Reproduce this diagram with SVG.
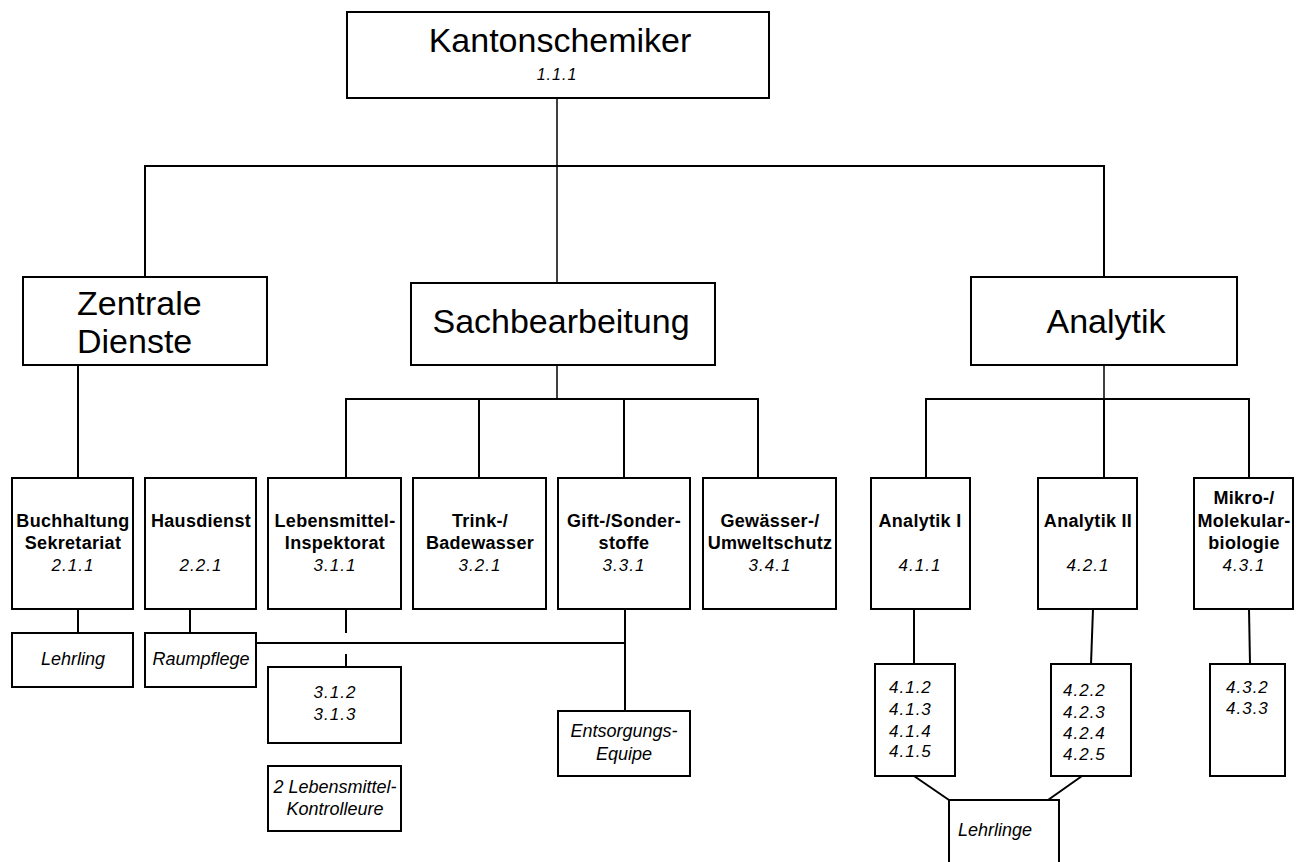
<svg xmlns="http://www.w3.org/2000/svg" width="1304" height="862" viewBox="0 0 1304 862">
<style>
rect{fill:#fff;stroke:#000;stroke-width:2}
.c line,.c polyline{stroke:#000;stroke-width:2;fill:none}
.c .thin{stroke-width:1.5}
text{font-family:"Liberation Sans",Arial,sans-serif;fill:#000}
.big{font-size:34px}
.b{font-size:18px;font-weight:bold;text-anchor:middle;letter-spacing:0.3px}
.i{font-size:18px;font-style:italic;text-anchor:middle}
.n{font-size:17px;font-style:italic;text-anchor:middle;letter-spacing:1px}
.nl{font-size:17px;font-style:italic;letter-spacing:1px}
.m{text-anchor:middle}
</style>
<rect x="0" y="0" width="1304" height="862" style="fill:#fff;stroke:none"/>
<g class="c">
<line class="thin" x1="557" y1="98" x2="557" y2="283"/>
<polyline points="145,277 145,166 1104,166 1104,277"/>
<line x1="78" y1="365" x2="78" y2="478"/>
<line class="thin" x1="557" y1="365" x2="557" y2="399"/>
<line x1="345" y1="399" x2="759" y2="399"/>
<line x1="346" y1="399" x2="346" y2="478"/>
<line x1="479" y1="399" x2="479" y2="478"/>
<line x1="624" y1="399" x2="624" y2="478"/>
<line x1="758" y1="399" x2="758" y2="478"/>
<line class="thin" x1="1104" y1="365" x2="1104" y2="399"/>
<line x1="925" y1="399" x2="1250" y2="399"/>
<line x1="926" y1="399" x2="926" y2="478"/>
<line x1="1104" y1="399" x2="1104" y2="478"/>
<line x1="1249" y1="399" x2="1249" y2="478"/>
<line x1="78" y1="609" x2="78" y2="633"/>
<line x1="190" y1="609" x2="190" y2="633"/>
<line x1="346" y1="609" x2="346" y2="633"/>
<line x1="346" y1="654" x2="346" y2="667"/>
<line x1="256" y1="643" x2="625" y2="643"/>
<line x1="625" y1="609" x2="625" y2="711"/>
<line x1="914" y1="609" x2="914" y2="664"/>
<line x1="1093" y1="609" x2="1091" y2="664"/>
<line x1="1249" y1="609" x2="1250" y2="664"/>
<line x1="914" y1="776" x2="949" y2="800"/>
<line x1="1082" y1="776" x2="1048" y2="800"/>
</g>
<g id="kantonschemiker"><rect x="347" y="12" width="422" height="86"/><text class="big m" x="560" y="52">Kantonschemiker</text><text class="n" x="557" y="80" style="font-size:16px">1.1.1</text></g>
<g id="zentrale"><rect x="23" y="277" width="244" height="88"/><text class="big" x="77" y="315">Zentrale</text><text class="big" x="77" y="353">Dienste</text></g>
<g id="sachbearbeitung"><rect x="411" y="283" width="304" height="82"/><text class="big m" x="561" y="333">Sachbearbeitung</text></g>
<g id="analytik"><rect x="971" y="277" width="266" height="88"/><text class="big m" x="1106" y="333">Analytik</text></g>
<g id="buchhaltung"><rect x="12" y="478" width="121" height="131"/><text class="b" x="73" y="527">Buchhaltung</text><text class="b" x="73" y="549">Sekretariat</text><text class="n" x="73" y="571">2.1.1</text></g>
<g id="hausdienst"><rect x="145" y="478" width="111" height="131"/><text class="b" x="201" y="527">Hausdienst</text><text class="n" x="201" y="571">2.2.1</text></g>
<g id="lebensmittel"><rect x="268" y="478" width="133" height="131"/><text class="b" x="335" y="527">Lebensmittel-</text><text class="b" x="335" y="549">Inspektorat</text><text class="n" x="335" y="571">3.1.1</text></g>
<g id="trink"><rect x="413" y="478" width="133" height="131"/><text class="b" x="480" y="527">Trink-/</text><text class="b" x="480" y="549">Badewasser</text><text class="n" x="480" y="571">3.2.1</text></g>
<g id="gift"><rect x="558" y="478" width="132" height="131"/><text class="b" x="624" y="527">Gift-/Sonder-</text><text class="b" x="624" y="549">stoffe</text><text class="n" x="624" y="571">3.3.1</text></g>
<g id="gewaesser"><rect x="703" y="478" width="133" height="131"/><text class="b" x="770" y="527">Gewässer-/</text><text class="b" x="770" y="549">Umweltschutz</text><text class="n" x="770" y="571">3.4.1</text></g>
<g id="analytik1"><rect x="871" y="478" width="99" height="131"/><text class="b" x="920" y="527">Analytik I</text><text class="n" x="920" y="571">4.1.1</text></g>
<g id="analytik2"><rect x="1038" y="478" width="99" height="131"/><text class="b" x="1088" y="527">Analytik II</text><text class="n" x="1088" y="571">4.2.1</text></g>
<g id="mikro"><rect x="1194" y="478" width="99" height="131"/><text class="b" x="1244" y="504">Mikro-/</text><text class="b" x="1244" y="527">Molekular-</text><text class="b" x="1244" y="549">biologie</text><text class="n" x="1244" y="571">4.3.1</text></g>
<g id="lehrling"><rect x="12" y="633" width="121" height="54"/><text class="i" x="73" y="665">Lehrling</text></g>
<g id="raumpflege"><rect x="145" y="633" width="111" height="54"/><text class="i" x="201" y="665">Raumpflege</text></g>
<g id="n312"><rect x="268" y="667" width="133" height="76"/><text class="n" x="335" y="698">3.1.2</text><text class="n" x="335" y="720">3.1.3</text></g>
<g id="kontrolleure"><rect x="268" y="766" width="133" height="65"/><text class="i" x="335" y="793">2 Lebensmittel-</text><text class="i" x="335" y="815">Kontrolleure</text></g>
<g id="entsorgung"><rect x="558" y="711" width="132" height="65"/><text class="i" x="624" y="737">Entsorgungs-</text><text class="i" x="624" y="760">Equipe</text></g>
<g id="n412"><rect x="875" y="664" width="80" height="112"/><text class="nl" x="889" y="693">4.1.2</text><text class="nl" x="889" y="715">4.1.3</text><text class="nl" x="889" y="737">4.1.4</text><text class="nl" x="889" y="757">4.1.5</text></g>
<g id="n422"><rect x="1051" y="664" width="80" height="112"/><text class="nl" x="1063" y="696">4.2.2</text><text class="nl" x="1063" y="718">4.2.3</text><text class="nl" x="1063" y="739">4.2.4</text><text class="nl" x="1063" y="760">4.2.5</text></g>
<g id="n432"><rect x="1210" y="664" width="75" height="112"/><text class="nl" x="1226" y="693">4.3.2</text><text class="nl" x="1226" y="714">4.3.3</text></g>
<g id="lehrlinge"><rect x="949" y="800" width="110" height="80"/><text class="i" x="958" y="836" style="text-anchor:start">Lehrlinge</text></g>
</svg>
